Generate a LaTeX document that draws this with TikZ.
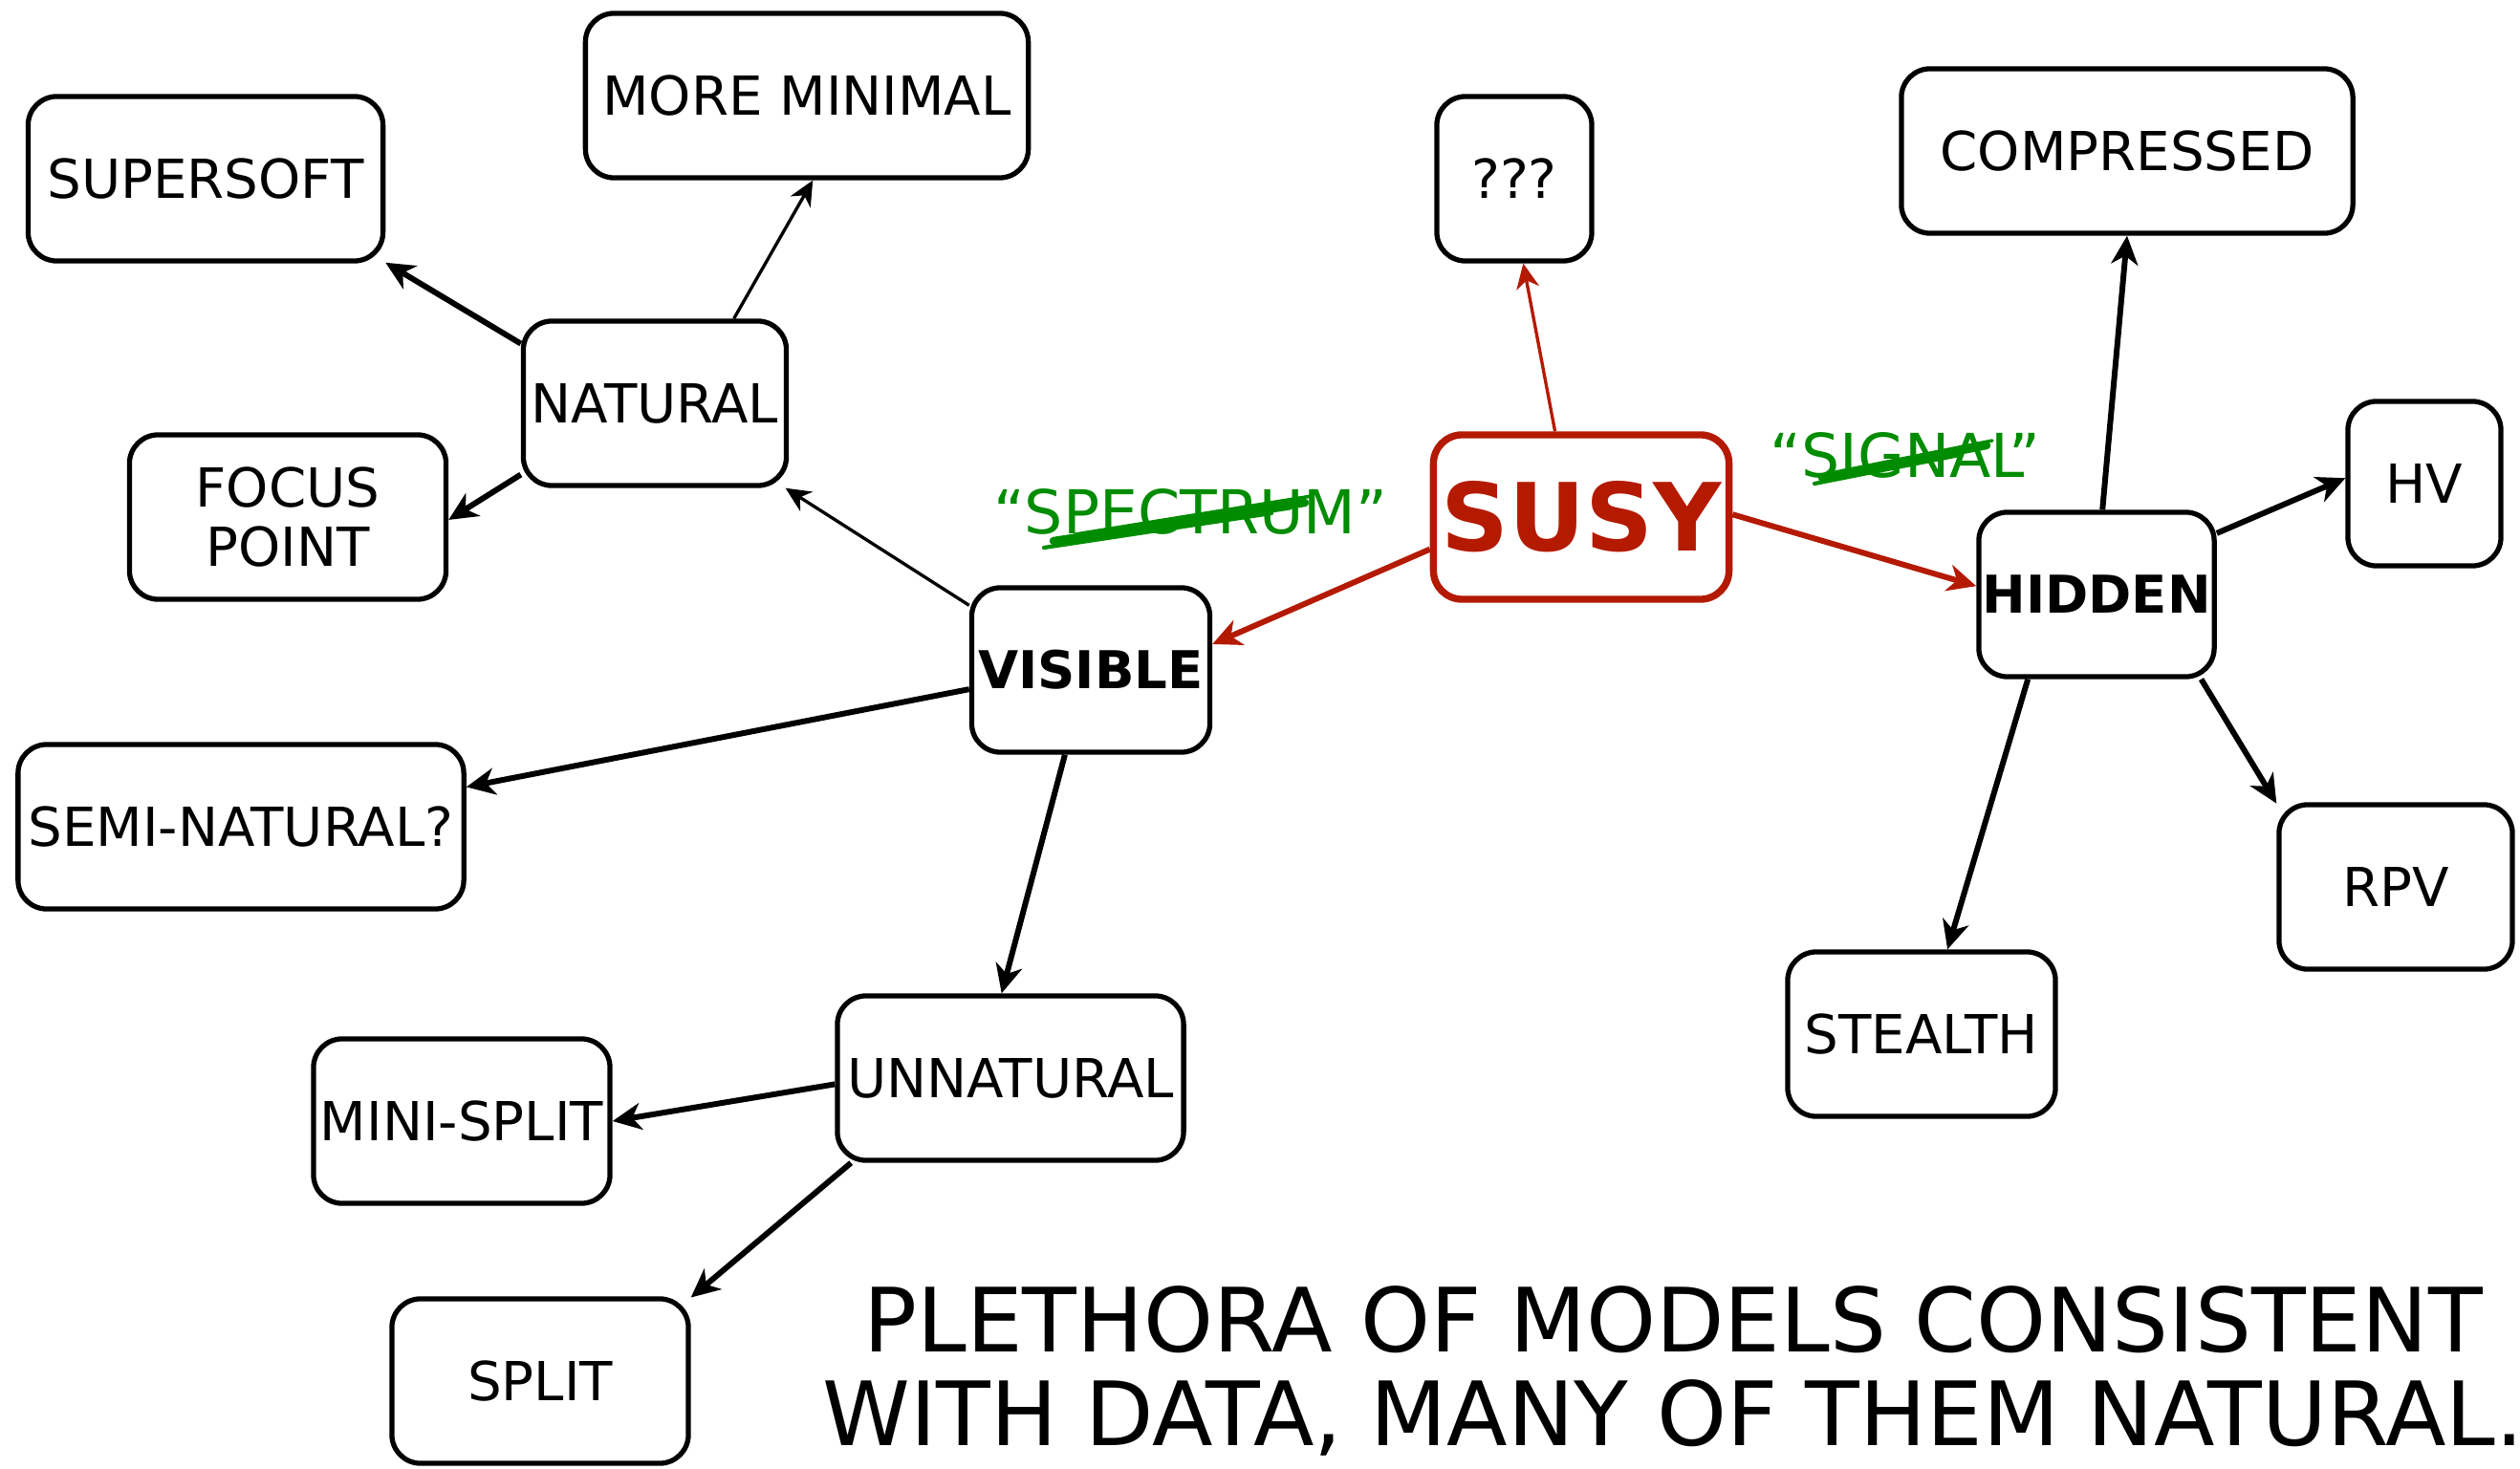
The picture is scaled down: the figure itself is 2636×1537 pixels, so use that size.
\documentclass[tikz,border=0pt]{standalone}
\usepackage{fontspec}
\setmainfont{DejaVu Sans}
\usetikzlibrary{arrows.meta}
\definecolor{susyred}{RGB}{180,26,0}
\definecolor{labgreen}{RGB}{0,140,0}
\tikzset{
  box/.style={draw, line width=1.5pt, rounded corners=0.3cm, minimum height=1.72cm,
    inner sep=2pt, align=center, fill=white, font=\fontsize{16}{17.6}\selectfont},
  boldbox/.style={box, inner sep=1pt, font=\fontsize{15.5}{17.6}\selectfont\bfseries},
  susybox/.style={box, draw=susyred, line width=2.1pt, text=susyred,
    font=\fontsize{28}{30}\selectfont\bfseries},
  thinarrow/.style={line width=0.95pt, -{Stealth[length=0.26cm,width=0.24cm,inset=0.08cm]}},
  thickarrow/.style={line width=1.7pt, -{Stealth[length=0.3cm,width=0.28cm,inset=0.09cm]}},
  quote/.style={text=labgreen, font=\fontsize{18}{20}\selectfont},
  scribble/.style={draw=labgreen, line cap=round},
}
\begin{document}
\begin{tikzpicture}[x=0.01cm,y=-0.01cm]
\useasboundingbox (0,0) rectangle (2636,1537);
\fill[white] (0,0) rectangle (2636,1537);

% nodes
\node[box, minimum width=3.71cm] (supersoft) at (215,187) {SUPERSOFT};
\node[box, minimum width=4.63cm] (moremin) at (844,100) {MORE MINIMAL};
\node[box, minimum width=2.75cm] (natural) at (685,422) {NATURAL};
\node[box, minimum width=3.31cm] (focus) at (301,541) {FOCUS\\POINT};
\node[boldbox, minimum width=2.49cm] (visible) at (1141,701) {VISIBLE};
\node[box, minimum width=4.66cm] (semi) at (252,865) {SEMI-NATURAL?};
\node[box, minimum width=3.62cm] (unnatural) at (1057,1128) {UNNATURAL};
\node[box, minimum width=3.09cm] (minisplit) at (483,1173) {MINI-SPLIT};
\node[box, minimum width=3.10cm] (split) at (565,1445) {SPLIT};
\node[box, minimum width=1.62cm] (qqq) at (1584,187) {???};
\node[susybox, minimum width=3.09cm] (susy) at (1654,541) {SUSY};
\node[box, minimum width=4.72cm] (compressed) at (2225,158) {COMPRESSED};
\node[box, minimum width=1.60cm] (hv) at (2536,506) {HV};
\node[boldbox, minimum width=2.44cm] (hidden) at (2193,622) {HIDDEN};
\node[box, minimum width=2.44cm] (rpv) at (2506,928) {RPV};
\node[box, minimum width=2.80cm] (stealth) at (2010,1082) {STEALTH};

% labels
\node[quote] (spectrum) at (1245,535) {“SPECTRUM”};
\node[quote] (signal) at (1993,476) {“SIGNAL”};
\draw[scribble, line width=2.4pt] (1102,566) -- (1365,526);
\draw[scribble, line width=1.2pt] (1092,573) -- (1330,537);
\draw[scribble, line width=1pt] (1125,559) -- (1372,519);
\draw[scribble, line width=0.8pt] (1110,570) -- (1350,532);
\draw[scribble, line width=2.4pt] (1906,500) -- (2078,466);
\draw[scribble, line width=1.2pt] (1898,506) -- (2050,476);
\draw[scribble, line width=1pt] (1920,494) -- (2084,461);

% connectors
\draw[thickarrow] (natural.156.5) -- (supersoft.-25.4);
\draw[thinarrow] (natural.47.3) -- (moremin.-86.9);
\draw[thickarrow] (natural.208.7) -- (focus.-1);
\draw[thinarrow] (visible.152.5) -- (natural.-33.6);
\draw[thickarrow] (visible.189.8) -- (semi.10.1);
\draw[thickarrow] (visible.253.4) -- (unnatural.96.3);
\draw[thickarrow] (unnatural.182.5) -- (minisplit.0);
\draw[thickarrow] (unnatural.208.6) -- (split.29.7);
\draw[thinarrow, draw=susyred, fill=susyred] (susy.107.2) -- (qqq.-84.9);
\draw[thickarrow, draw=susyred, fill=susyred] (susy.192.8) -- (visible.12.4);
\draw[thickarrow, draw=susyred, fill=susyred] (susy.1.1) -- (hidden.176.8);
\draw[thickarrow] (hidden.86) -- (compressed.-90.6);
\draw[thickarrow] (hidden.27.8) -- (hv.176.6);
\draw[thickarrow] (hidden.-39.9) -- (rpv.145.3);
\draw[thickarrow] (hidden.231.7) -- (stealth.73.3);

% caption
\node[align=center, font=\fontsize{26.4}{27.9}\selectfont] (caption) at (1750,1434)
  {PLETHORA OF MODELS CONSISTENT\\WITH DATA, MANY OF THEM NATURAL.};
\end{tikzpicture}
\end{document}
